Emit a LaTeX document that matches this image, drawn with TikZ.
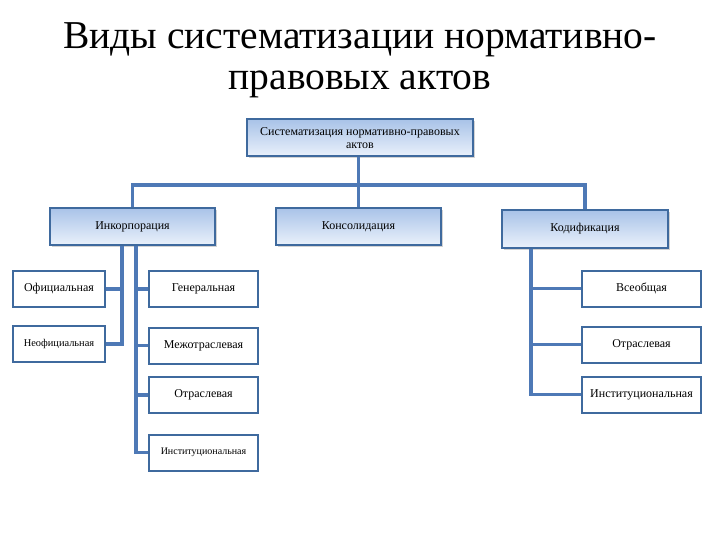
\documentclass[tikz,border=0pt]{standalone}
\usepackage{fontspec}
\setmainfont{Liberation Serif}
\usetikzlibrary{shadows}
\definecolor{lineblue}{HTML}{4E79B6}
\definecolor{edgeblue}{HTML}{3F6A9E}
\definecolor{gtop}{HTML}{A9C3E8}
\definecolor{gbot}{HTML}{EAF1FB}
\begin{document}
\begin{tikzpicture}[x=1pt,y=-1pt,
  mainbox/.style={draw=edgeblue, line width=2pt, top color=gtop, bottom color=gbot,
    minimum height=37pt, inner sep=2pt, align=center, font=\fontsize{12}{13}\selectfont,
    drop shadow={shadow xshift=1.5pt, shadow yshift=-2pt, opacity=0.35}},
  leaf/.style={draw=edgeblue, line width=2pt, fill=white, minimum width=109pt,
    minimum height=36pt, inner sep=2pt, align=center, font=\fontsize{12}{13}\selectfont},
  conn/.style={draw=lineblue, line width=3.2pt}]
\useasboundingbox (0,0) rectangle (720,540);
\node[font=\fontsize{39.5}{41}\selectfont, align=center] (title) at (360,60)
  {Виды систематизации нормативно-\\правовых актов};
% main boxes
\node[mainbox, minimum width=226pt] (top) at (360,138) {Систематизация нормативно-правовых\\актов};
\node[mainbox, minimum width=165pt] (inc) at (132.5,226.5) {Инкорпорация};
\node[mainbox, minimum width=165pt] (kons) at (358.5,226.5) {Консолидация};
\node[mainbox, minimum width=166pt] (kod) at (585,229) {Кодификация};
% leaves
\node[leaf, minimum width=92pt] (ofic) at (59,289) {Официальная};
\node[leaf, minimum width=92pt, font=\fontsize{10.4}{11}\selectfont] (neof) at (59,344) {Неофициальная};
\node[leaf] (gen) at (203.5,289) {Генеральная};
\node[leaf] (mezh) at (203.5,345.5) {Межотраслевая};
\node[leaf] (otr1) at (203.5,395) {Отраслевая};
\node[leaf, font=\fontsize{10}{11}\selectfont] (inst1) at (203.5,452.5) {Институциональная};
\node[leaf, minimum width=119pt] (vse) at (641.5,288.5) {Всеобщая};
\node[leaf, minimum width=119pt] (otr2) at (641.5,344.5) {Отраслевая};
\node[leaf, minimum width=119pt] (inst2) at (641.5,394.5) {Институциональная};
% connectors
\coordinate (bus) at (0,185);
\draw[conn] ([xshift=-1.5pt]top.south) -- (kons.north);
\draw[conn] (inc.north) -- (inc.north |- bus) -| (kod.north);
\draw[conn] ([xshift=-10.5pt]inc.south) |- (ofic.east);
\draw[conn] ([xshift=-10.5pt]inc.south) |- (neof.east);
\draw[conn] ([xshift=3.5pt]inc.south) |- (gen.west);
\draw[conn] ([xshift=3.5pt]inc.south) |- (mezh.west);
\draw[conn] ([xshift=3.5pt]inc.south) |- (otr1.west);
\draw[conn] ([xshift=3.5pt]inc.south) |- (inst1.west);
\draw[conn] ([xshift=-54pt]kod.south) |- (vse.west);
\draw[conn] ([xshift=-54pt]kod.south) |- (otr2.west);
\draw[conn] ([xshift=-54pt]kod.south) |- (inst2.west);
\end{tikzpicture}
\end{document}
